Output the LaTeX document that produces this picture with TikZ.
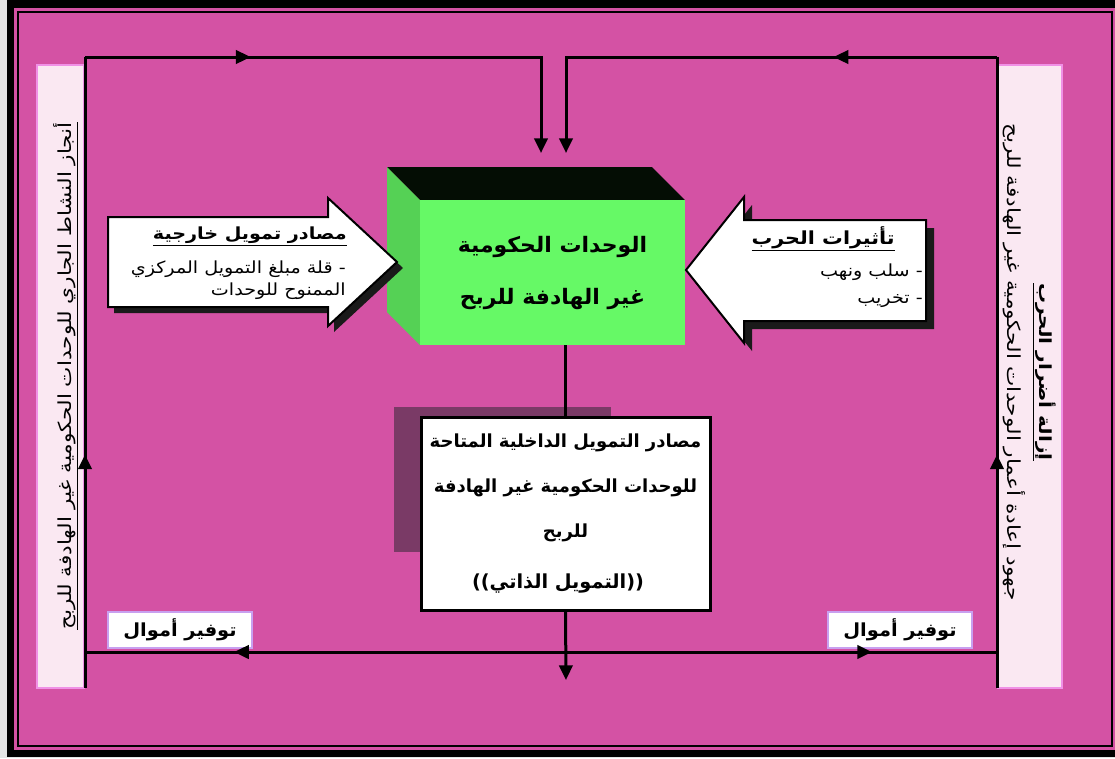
\documentclass[tikz,border=0pt]{standalone}
\usepackage{fontspec}
\usepackage{graphicx}
\usetikzlibrary{arrows.meta,decorations.markings,calc}
\TeXXeTstate=1
\newfontfamily\arfont[Script=Arabic]{DejaVu Sans}
\newfontfamily\latfont{DejaVu Sans}
\newcommand{\artext}[1]{\beginR #1\endR}
\newcommand{\arw}[2][1.15]{\scalebox{#1}[1]{\beginR #2\endR}}
\definecolor{bgmag}{HTML}{D452A4}
\definecolor{pagegray}{HTML}{E4E4E4}
\definecolor{panelfill}{HTML}{FAE8F2}
\definecolor{panelline}{HTML}{F090E6}
\definecolor{lavline}{HTML}{C8A0F0}
\definecolor{greenfront}{HTML}{66F966}
\definecolor{greenside}{HTML}{55D155}
\definecolor{greentop}{HTML}{040D04}
\definecolor{boxshadow}{HTML}{7A3A66}
\definecolor{arrowshadow}{HTML}{1A1A1A}
\tikzset{
  conn/.style={line width=2.25pt, black},
  tipA/.tip={Triangle[length=11pt,width=10pt]},
  midarrow/.style={postaction={decorate}, decoration={markings, mark=at position #1 with {\arrow{tipA}}}},
  panelbox/.style={fill=panelfill, draw=panelline, line width=1.5pt},
  moneybox/.style={fill=white, draw=lavline, line width=1.5pt, minimum width=108pt, minimum height=27pt, inner sep=0pt,
     font=\arfont\bfseries\fontsize{13.5}{15}\selectfont},
  bigarrow/.style={fill=white, draw=black, line width=1.5pt, line join=miter},
  bigshadow/.style={fill=arrowshadow},
  armtitle/.style={font=\arfont\bfseries\fontsize{12.5}{14}\selectfont, inner sep=0pt, anchor=base east},
  armtext/.style={font=\arfont\fontsize{12.5}{14}\selectfont, inner sep=0pt, anchor=base east},
}
\begin{document}
\begin{tikzpicture}[x=0.75pt,y=-0.75pt]
\useasboundingbox (0,0) rectangle (1115,758);
% frame
\fill[pagegray] (0,0) rectangle (1115,758);
\fill[black] (7,0) rectangle (1115,757);
\fill[bgmag] (14,8) rectangle (1115,750);
\draw[black,line width=1.5pt] (18,12) rectangle (1112,746);
% side panels
\draw[panelbox] (37,65) rectangle (84,688);
\draw[panelbox] (998,65) rectangle (1062,688);
\node[rotate=90, font=\arfont\fontsize{13.5}{14}\selectfont, inner sep=0pt] (lefttext) at (66,376)
  {\underline{\arw[1.2]{أنجاز النشاط الجاري للوحدات الحكومية غير الهادفة للربح}}};
\node[rotate=-90, font=\arfont\bfseries\fontsize{12.5}{14}\selectfont, inner sep=0pt] (righttitle) at (1044,372)
  {\underline{\arw[1.2]{إزالة أضرار الحرب}}};
\node[rotate=-90, font=\arfont\fontsize{13.5}{14}\selectfont, inner sep=0pt] (righttext) at (1014,362)
  {\arw[1.2]{جهود إعادة أعمار الوحدات الحكومية غير الهادفة للربح}};
% coordinates of the connector frame
\coordinate (TL) at (85,57);
\coordinate (TR) at (997,57);
\coordinate (BL) at (85,688);
\coordinate (BR) at (997,688);
\coordinate (BLm) at (85,652);
\coordinate (BRm) at (997,652);
\coordinate (Bmid) at (566,652);
\coordinate (TLd) at (541,57);
\coordinate (TRd) at (566,57);
\coordinate (TLe) at (541,153);
\coordinate (TRe) at (566,153);
\coordinate (outend) at (566,680);
% 3D green box
\fill[greentop] (387,167) -- (652,167) -- (685,200) -- (420,200) -- cycle;
\fill[greenside] (387,167) -- (420,200) -- (420,345) -- (387,312) -- cycle;
\node[fill=greenfront, minimum width=198.75pt, minimum height=108.75pt, inner sep=0pt, align=center,
  font=\arfont\bfseries\fontsize{16}{39}\selectfont] (unit) at (552.5,272.5)
  {\arw[1.03]{الوحدات الحكومية}\\\arw[1.03]{غير الهادفة للربح}};
% self-financing box
\fill[boxshadow] (394,407) rectangle (611,552);
\node[fill=white, draw=black, line width=2.25pt, minimum width=216.75pt, minimum height=144.75pt, inner sep=0pt] (self) at (565.5,513.5) {};
\begin{scope}[every node/.style={inner sep=0pt, font=\arfont\bfseries\fontsize{13.5}{15}\selectfont}]
\node (selfA) at (565.5,443) {\artext{مصادر التمويل الداخلية المتاحة}};
\node (selfB) at (565.5,488) {\artext{للوحدات الحكومية غير الهادفة}};
\node (selfC) at (565.5,533) {\artext{للربح}};
\node[font=\arfont\bfseries\fontsize{14.5}{16}\selectfont] (selfD) at (558,584)
  {{\latfont\bfseries((}\artext{التمويل الذاتي}{\latfont\bfseries))}};
\end{scope}
% left big arrow
\fill[bigshadow] ($(108,217)+(6,6)$) -- ++(220,0) -- ++(0,-19) -- ++(69,64) -- ++(-69,64) -- ++(0,-19) -- ++(-220,0) -- cycle;
\draw[bigarrow] (108,217) -- (328,217) -- (328,198) -- (397,262) -- (328,326) -- (328,307) -- (108,307) -- cycle;
\node[armtitle] (exttitle) at (347,239) {\underline{\arw{مصادر تمويل خارجية}}};
\node[armtext] (extline1) at (346,273) {\arw{- قلة مبلغ التمويل المركزي}};
\node[armtext] (extline2) at (346,295) {\arw{الممنوح للوحدات}};
% right big arrow
\fill[bigshadow] ($(926,220)+(8,8)$) -- ++(-182,0) -- ++(0,-23) -- ++(-58,73) -- ++(58,73) -- ++(0,-22) -- ++(182,0) -- cycle;
\draw[bigarrow] (926,220) -- (744,220) -- (744,197) -- (686,270) -- (744,343) -- (744,321) -- (926,321) -- cycle;
\node[armtitle, font=\arfont\bfseries\fontsize{13.5}{14}\selectfont] (wartitle) at (895,244) {\underline{\arw{تأثيرات الحرب}}};
\node[armtext] (warline1) at (923,276) {\arw{- سلب ونهب}};
\node[armtext] (warline2) at (923,303) {\arw{- تخريب}};
% money boxes
\node[moneybox] (moneyL) at (180,630) {\arw[1.08]{توفير أموال}};
\node[moneybox] (moneyR) at (900,630) {\arw[1.08]{توفير أموال}};
% connectors
\draw[conn, midarrow=0.37] (BL) -- (TL);
\draw[conn, midarrow=0.37] (BR) -- (TR);
\draw[conn, midarrow=0.30, -{tipA}] (TL) -- (TLd) -- (TLe);
\draw[conn, midarrow=0.31, -{tipA}] (TR) -- (TRd) -- (TRe);
\draw[conn, midarrow=0.69] (Bmid) -- (BLm);
\draw[conn, midarrow=0.71] (Bmid) -- (BRm);
\draw[conn] (self.north |- unit.south) -- (self.north);
\draw[conn, -{tipA}] (self.south) -- (outend);
\end{tikzpicture}
\end{document}
